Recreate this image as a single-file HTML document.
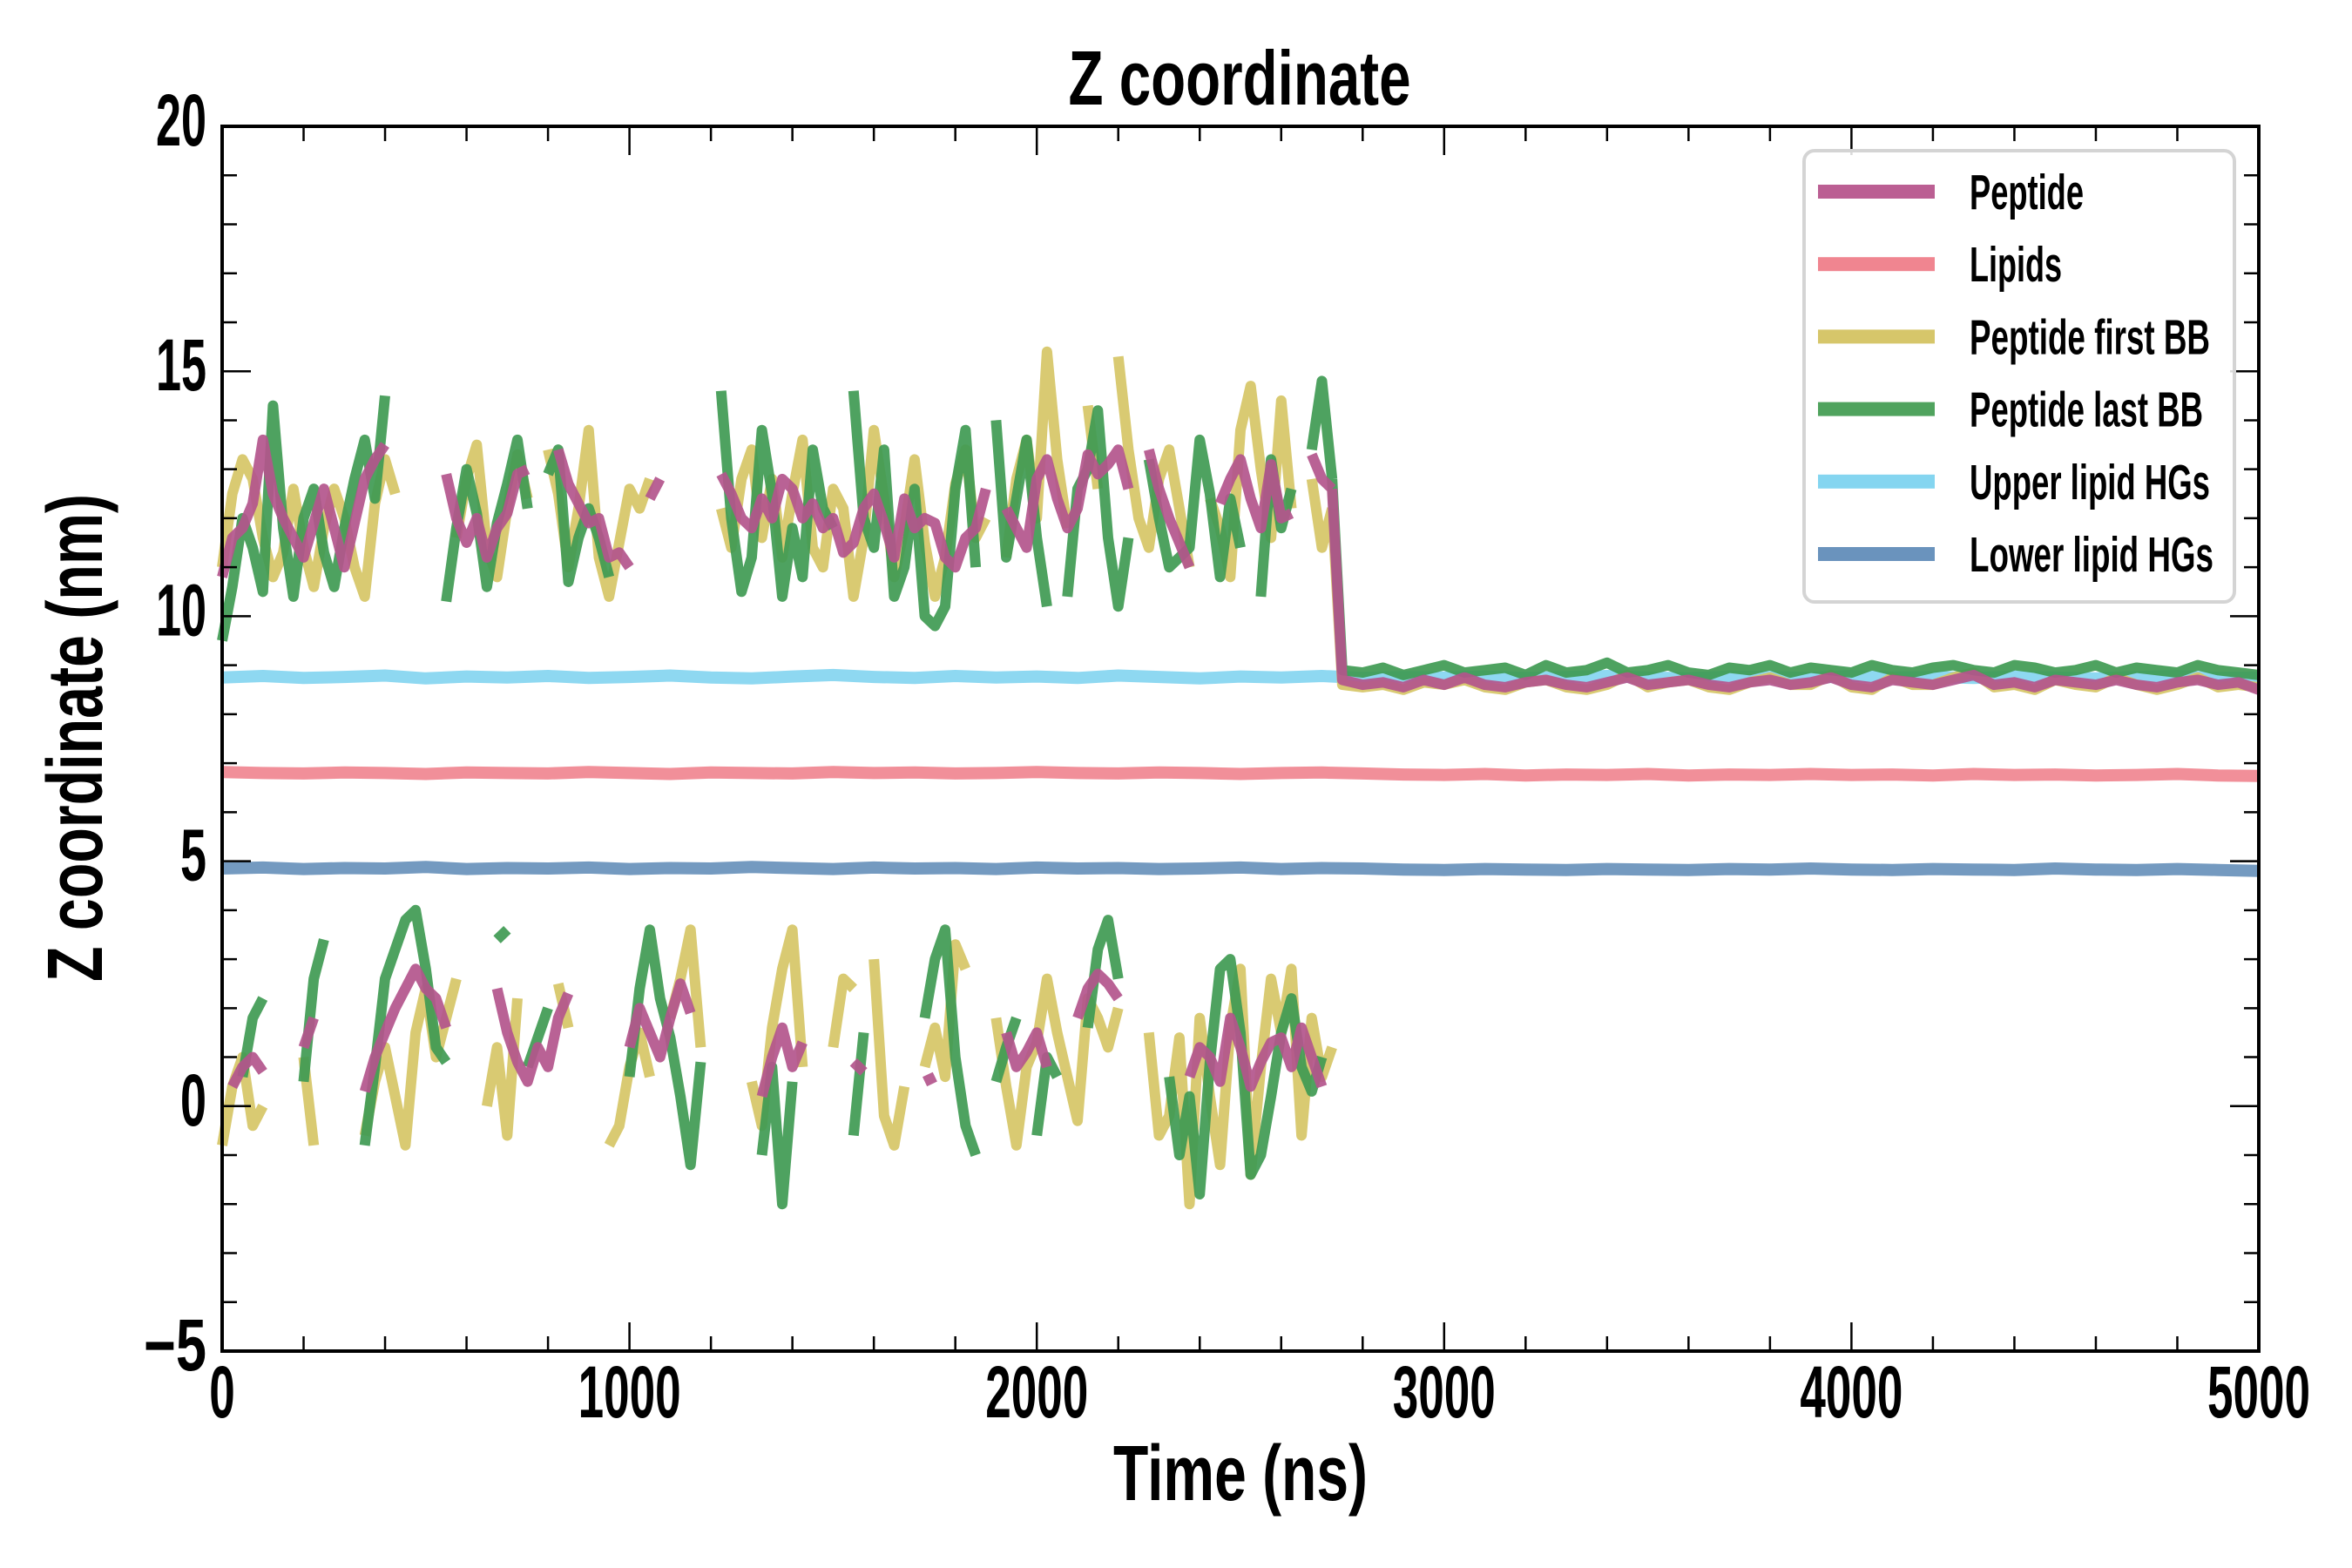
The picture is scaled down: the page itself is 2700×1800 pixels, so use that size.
<!DOCTYPE html>
<html><head><meta charset="utf-8">
<style>
html,body{margin:0;padding:0;background:#fff;}
svg{display:block;}
text{font-family:"Liberation Sans","DejaVu Sans",sans-serif;font-weight:bold;fill:#000;}
</style></head>
<body>
<svg id="chart" width="2700" height="1800" viewBox="0 0 2700 1800" xmlns="http://www.w3.org/2000/svg">
<rect x="0" y="0" width="2700" height="1800" fill="#fff"/>
<g id="plot"></g>
<g id="axes"></g>
<text x="1423" y="120" font-size="88" text-anchor="middle" textLength="393" lengthAdjust="spacingAndGlyphs">Z coordinate</text>
<text x="1424" y="1722" font-size="90" text-anchor="middle" textLength="292" lengthAdjust="spacingAndGlyphs">Time (ns)</text>
<text x="0" y="0" font-size="90" text-anchor="middle" textLength="560" lengthAdjust="spacingAndGlyphs" transform="translate(117,847) rotate(-90)">Z coordinate (nm)</text>
<g id="legend">
<rect x="2071" y="173" width="494" height="518" rx="12" fill="#fff" fill-opacity="0.85" stroke="#d4d4d4" stroke-width="4"/>
</g>
</svg>
<script>
// ---- data ----
const xTicks = [0, 1000, 2000, 3000, 4000, 5000];
const xTickLabels = ["0", "1000", "2000", "3000", "4000", "5000"];
const yTicks = [-5, 0, 5, 10, 15, 20];
const yTickLabels = ["\u22125", "0", "5", "10", "15", "20"];
const earlyStep = 25;   // ns, early arrays start at 0
const lateStart = 2750; const lateStep = 50;
const membStep = 100;

const pepUp = [10.8,11.6,11.8,12.3,13.6,12.5,12.0,11.6,11.2,11.9,
12.6,11.8,11.0,11.9,12.8,13.2,13.5,null,null,null,
null,null,12.9,12.0,11.5,12.0,11.2,11.8,12.1,12.9,
13.0,null,null,13.4,12.7,12.3,11.9,12.0,11.2,11.3,
11.0,null,12.4,12.8,null,null,null,null,null,12.9,
12.5,12.0,11.8,12.4,12.0,12.8,12.6,12.0,12.3,11.8,
12.0,11.3,11.5,12.2,12.5,11.9,11.2,12.4,11.8,12.0,
11.9,11.2,11.0,11.6,11.8,12.6,null,12.2,11.8,11.4,
12.8,13.2,12.4,11.8,12.2,13.3,12.9,13.1,13.4,12.6,
null,13.4,12.6,12.0,11.5,11.0,null,null,12.3,12.8,
13.2,12.4,11.8,13.1,12.0,12.1,null,13.3,12.8,12.6];
const pepLow = [null,0.4,0.8,1.0,0.7,null,null,null,1.2,1.8,
null,null,null,null,0.3,1.0,1.5,2.0,2.4,2.8,
2.4,2.2,1.6,null,null,null,null,2.4,1.5,0.9,
0.5,1.2,0.8,1.8,2.3,null,null,null,null,null,
1.2,2.0,1.5,1.0,1.8,2.5,1.9,null,null,null,
null,null,null,0.2,1.0,1.6,0.8,1.3,null,null,
null,null,0.9,0.7,null,null,null,null,null,0.5,
0.6,null,null,null,null,null,null,1.5,0.8,1.1,
1.5,0.8,null,null,1.8,2.4,2.7,2.5,2.2,null,
null,null,null,null,null,0.6,1.2,1.0,0.5,1.8,
1.2,0.4,0.9,1.3,1.4,0.8,1.6,1.0,0.4,null];
const firstUp = [11.0,12.5,13.2,12.8,11.6,10.8,11.3,12.6,11.4,10.6,
11.8,12.6,12.0,11.0,10.4,12.3,13.2,12.5,null,null,
null,null,null,11.6,12.8,13.5,11.4,10.8,12.2,13.3,
12.4,null,13.4,12.5,11.0,12.2,13.8,11.2,10.4,11.5,
12.6,12.2,12.8,null,null,null,null,null,null,12.2,
11.4,12.8,13.4,11.6,12.8,11.2,12.5,13.6,11.4,11.0,
12.6,12.2,10.4,11.6,13.8,12.4,10.8,11.8,13.2,11.5,
10.4,11.2,12.7,13.4,11.6,12.0,null,11.2,12.8,13.6,
12.0,15.4,13.2,11.8,null,14.3,12.6,null,15.3,13.4,
12.0,11.4,12.8,13.4,12.2,11.0,null,12.4,11.8,10.8,
13.8,14.7,13.0,11.6,14.4,12.2,null,12.8,11.4,12.2];
const firstLow = [-0.8,0.4,1.0,-0.4,0.0,null,null,null,1.0,-0.8,
null,null,null,null,-0.6,0.5,1.2,0.2,-0.8,1.5,
2.4,1.0,1.8,2.6,null,null,0.0,1.2,-0.6,2.2,
null,null,null,2.5,1.6,null,null,null,-0.8,-0.4,
0.8,1.5,0.6,null,1.8,2.6,3.6,1.2,null,null,
null,null,0.5,-0.4,1.6,2.8,3.6,0.8,null,null,
1.2,2.6,2.4,null,3.0,-0.2,-0.8,0.4,null,0.8,
1.6,0.6,3.3,2.8,null,null,1.8,0.4,-0.8,0.8,
1.3,2.6,1.5,0.6,-0.3,2.2,1.8,1.2,2.0,null,
null,1.5,-0.6,-0.2,1.4,-2.0,1.8,0.2,-1.2,1.6,
2.8,-1.4,0.8,2.6,1.5,2.8,-0.6,1.8,0.6,1.2];
const lastUp = [9.5,10.6,12.0,11.4,10.5,14.3,11.8,10.4,12.0,12.6,
11.3,10.6,11.8,12.8,13.6,12.4,14.5,null,null,null,
null,null,10.3,11.8,13.0,12.1,10.6,11.9,12.7,13.6,
12.2,null,12.9,13.4,10.7,11.6,12.2,11.6,10.8,null,
null,null,null,null,null,null,null,null,null,14.6,
12.0,10.5,11.2,13.8,12.5,10.4,11.8,10.8,13.4,12.2,
11.8,null,14.6,12.0,11.4,13.4,10.4,11.0,12.6,10.0,
9.8,10.2,12.6,13.8,11.0,null,14.0,11.2,12.4,13.6,
11.6,10.2,null,10.4,12.6,13.0,14.2,11.6,10.2,11.6,
null,13.2,12.0,11.0,11.2,11.4,13.6,12.5,10.8,12.4,
11.4,null,10.4,13.2,11.8,12.6,null,13.4,14.8,12.8];
const lastLow = [null,null,0.6,1.8,2.2,null,null,null,0.5,2.6,
3.4,null,null,null,-0.8,0.8,2.6,3.2,3.8,4.0,
2.8,1.2,0.9,null,null,null,null,3.4,3.6,null,
0.8,1.4,2.0,null,null,null,null,null,null,null,
0.6,2.4,3.6,2.2,1.4,0.2,-1.2,0.9,null,null,
null,null,null,-1.0,0.8,-2.0,0.5,null,null,null,
null,null,-0.6,1.5,null,null,null,null,null,1.8,
3.0,3.6,1.0,-0.4,-1.0,null,0.5,1.2,1.8,null,
-0.6,1.0,0.6,null,null,1.6,3.2,3.8,2.6,null,
null,null,null,0.6,-1.0,0.2,-1.8,0.9,2.8,3.0,
1.5,-1.4,-1.0,0.2,1.5,2.2,0.8,0.3,1.0,null];
const pepLate = [8.7,8.6,8.65,8.55,8.7,8.6,8.75,8.6,8.55,8.65,8.7,8.6,8.55,8.65,8.75,8.6,8.65,8.7,8.6,8.55,
8.65,8.7,8.6,8.65,8.75,8.6,8.55,8.7,8.65,8.6,8.7,8.8,8.6,8.65,8.55,8.7,8.65,8.6,8.7,8.6,8.55,8.65,8.7,8.6,8.65,8.5];
const firstLate = [8.6,8.55,8.6,8.5,8.65,8.6,8.7,8.55,8.5,8.65,8.7,8.55,8.5,8.6,8.8,8.55,8.65,8.7,8.55,8.5,
8.65,8.75,8.6,8.6,8.8,8.55,8.5,8.75,8.6,8.6,8.75,8.85,8.55,8.6,8.5,8.7,8.6,8.55,8.75,8.6,8.5,8.6,8.75,8.55,8.6,8.55];
const lastLate = [8.9,8.85,8.95,8.8,8.9,9.0,8.85,8.9,8.95,8.8,9.0,8.85,8.9,9.05,8.85,8.9,9.0,8.85,8.8,8.95,
8.9,9.0,8.85,8.95,8.9,8.85,9.0,8.9,8.85,8.95,9.0,8.9,8.85,9.0,8.95,8.85,8.9,9.0,8.85,8.95,8.9,8.85,9.0,8.9,8.85,8.8];
const upperHG = [8.75,8.78,8.74,8.76,8.79,8.73,8.77,8.75,8.78,8.74,8.76,8.79,8.75,8.73,8.77,8.8,8.76,8.74,8.78,8.75,
8.77,8.74,8.79,8.76,8.73,8.77,8.75,8.78,8.74,8.76,8.75,8.77,8.74,8.76,8.78,8.75,8.73,8.77,8.76,8.74,
8.78,8.75,8.76,8.74,8.77,8.75,8.73,8.76,8.78,8.74,8.75];
const lipids = [6.82,6.8,6.79,6.81,6.8,6.78,6.81,6.8,6.79,6.82,6.8,6.78,6.81,6.8,6.79,6.82,6.8,6.81,6.79,6.8,
6.82,6.8,6.79,6.81,6.8,6.78,6.8,6.81,6.79,6.77,6.76,6.78,6.75,6.77,6.76,6.78,6.75,6.77,6.76,6.78,
6.76,6.77,6.75,6.78,6.76,6.77,6.75,6.76,6.78,6.75,6.74];
const lowerHG = [4.85,4.87,4.84,4.86,4.85,4.88,4.84,4.86,4.85,4.87,4.84,4.86,4.85,4.88,4.86,4.84,4.87,4.85,4.86,4.84,
4.87,4.85,4.86,4.84,4.85,4.87,4.84,4.86,4.85,4.83,4.82,4.84,4.83,4.82,4.84,4.83,4.82,4.84,4.83,4.85,
4.83,4.82,4.84,4.83,4.82,4.85,4.83,4.82,4.84,4.82,4.8];

// ---- layout ----
const L = 255, R = 2593, T = 145, B = 1551;
const xMin = 0, xMax = 5000, yMin = -5, yMax = 20;
function xScale(v){ return L + (v - xMin) / (xMax - xMin) * (R - L); }
function yScale(v){ return B - (v - yMin) / (yMax - yMin) * (B - T); }
const NS = "http://www.w3.org/2000/svg";
const plot = document.getElementById('plot');
const axes = document.getElementById('axes');

function pathFrom(vals, t0, step){
  let d = ""; let pen = false;
  for (let i = 0; i < vals.length; i++){
    const v = vals[i];
    if (v === null){ pen = false; continue; }
    const px = xScale(t0 + i * step).toFixed(1), py = yScale(v).toFixed(1);
    d += (pen ? "L" : "M") + px + " " + py + " ";
    pen = true;
  }
  return d;
}
function drawLine(d, color, name, w){
  const p = document.createElementNS(NS, 'path');
  p.setAttribute('d', d);
  p.setAttribute('fill', 'none');
  p.setAttribute('stroke', color);
  p.setAttribute('stroke-width', w);
  p.setAttribute('stroke-opacity', '0.92');
  p.setAttribute('stroke-linejoin', 'round');
  
  
  plot.appendChild(p);
}
const C = {pep:"#b3558c", lip:"#f08590", first:"#d6c566", last:"#3f9a53", up:"#84d5f0", low:"#6891bb"};
drawLine(pathFrom(upperHG, 0, membStep), C.up, 'upper-lipid-hgs-line', 14);
drawLine(pathFrom(lipids, 0, membStep), C.lip, 'lipids-line', 14);
drawLine(pathFrom(lowerHG, 0, membStep), C.low, 'lower-lipid-hgs-line', 14);
function joinEarlyLate(up, late){
  let d = pathFrom(up, 0, earlyStep);
  const lastIdx = up.length - 1;
  let ld = pathFrom(late, lateStart, lateStep);
  if (up[lastIdx] !== null){
    ld = "M" + xScale(lastIdx * earlyStep).toFixed(1) + " " + yScale(up[lastIdx]).toFixed(1) + " L" + ld.slice(1);
  }
  return d + ld;
}
drawLine(joinEarlyLate(firstUp, firstLate) + pathFrom(firstLow, 0, earlyStep), C.first, 'peptide-first-bb-line', 12);
drawLine(joinEarlyLate(lastUp, lastLate) + pathFrom(lastLow, 0, earlyStep), C.last, 'peptide-last-bb-line', 12);
drawLine(joinEarlyLate(pepUp, pepLate) + pathFrom(pepLow, 0, earlyStep), C.pep, 'peptide-line', 12);

// ---- axes ----
function line(x1,y1,x2,y2,w,name){
  const l = document.createElementNS(NS,'line');
  l.setAttribute('x1',x1); l.setAttribute('y1',y1); l.setAttribute('x2',x2); l.setAttribute('y2',y2);
  l.setAttribute('stroke','#000'); l.setAttribute('stroke-width',w);
  
  
  axes.appendChild(l);
}
function txt(x,y,s,anchor,len,name){
  const t = document.createElementNS(NS,'text');
  t.setAttribute('x',x); t.setAttribute('y',y); t.setAttribute('font-size','84');
  t.setAttribute('text-anchor',anchor);
  t.setAttribute('textLength',len); t.setAttribute('lengthAdjust','spacingAndGlyphs');
  t.textContent = s;
  
  
  axes.appendChild(t);
}
for (let v = 0; v <= 5000; v += 200){
  const x = xScale(v); const major = v % 1000 === 0;
  const len = major ? 33 : 17;
  line(x,B,x,B-len,2.5,'x-tick');
  line(x,T,x,T+len,2.5,'x-tick-top');
}
for (let v = -5; v <= 20; v += 1){
  const y = yScale(v); const major = v % 5 === 0;
  const len = major ? 33 : 17;
  line(L,y,L+len,y,2.5,'y-tick');
  line(R,y,R-len,y,2.5,'y-tick-right');
}
xTicks.forEach((v,i)=>{
  const s = xTickLabels[i];
  txt(xScale(v), B+76, s, 'middle', 29.5*s.length, 'x-tick-label');
});
yTicks.forEach((v,i)=>{
  const s = yTickLabels[i];
  txt(237, yScale(v)+22, s, 'end', s.length===1?30:(s[0]==="\u2212"?72:58), 'y-tick-label');
});
const sp = document.createElementNS(NS,'rect');
sp.setAttribute('x',L); sp.setAttribute('y',T); sp.setAttribute('width',R-L); sp.setAttribute('height',B-T);
sp.setAttribute('fill','none'); sp.setAttribute('stroke','#000'); sp.setAttribute('stroke-width','4');


axes.appendChild(sp);

// ---- legend ----
const legend = document.getElementById('legend');
const legNames = ["Peptide","Lipids","Peptide first BB","Peptide last BB","Upper lipid HGs","Lower lipid HGs"];
const legColors = ["#bb5f93","#f08590","#d6c66a","#50a35e","#84d5f0","#6a93bd"];
const legWidths = [131,106,276,268,276,280];
legNames.forEach((n,i)=>{
  const y = 220 + i*83.2;
  const r = document.createElementNS(NS,'rect');
  r.setAttribute('x',2087); r.setAttribute('y',y-8); r.setAttribute('width',134); r.setAttribute('height',16);
  r.setAttribute('fill',legColors[i]);
  
  
  legend.appendChild(r);
  const t = document.createElementNS(NS,'text');
  t.setAttribute('x',2261); t.setAttribute('y',y+20); t.setAttribute('font-size','57');
  t.setAttribute('textLength',legWidths[i]); t.setAttribute('lengthAdjust','spacingAndGlyphs');
  t.textContent = n;
  
  
  legend.appendChild(t);
});
</script>
</body></html>
